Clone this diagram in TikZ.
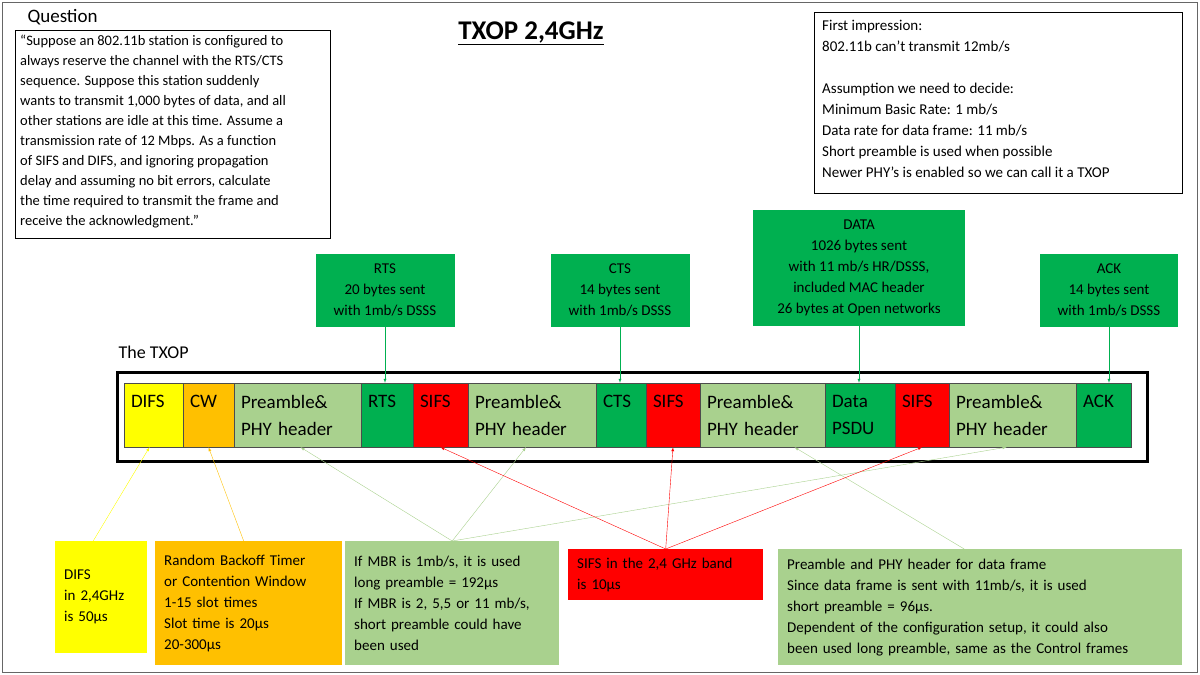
\documentclass[tikz,border=0pt]{standalone}
\usepackage{fontspec}
\setmainfont{Carlito}
\usetikzlibrary{calc}
\definecolor{difsyellow}{HTML}{FFFF00}
\definecolor{cworange}{HTML}{FFC000}
\definecolor{preGreen}{HTML}{A9D18E}
\definecolor{frameGreen}{HTML}{00B050}
\definecolor{sifsRed}{HTML}{FF0000}
\begin{document}
\begin{tikzpicture}[
    x=1pt, y=-1pt,
    seg/.style = {
      draw = black!70, minimum height = 64pt, inner xsep = 7pt, inner ysep = 0pt,
      text width = #1pt - 14pt, align = left, font = \fontsize{19}{27}\selectfont
    },
    info/.style = {
      anchor = north west, inner xsep = 9pt, align = left,
      text width = #1pt - 18pt, font = \fontsize{15}{21}\selectfont
    },
    topbox/.style = {
      fill = frameGreen, align = center, inner sep = 0pt,
      font = \fontsize{15}{21}\selectfont
    },
    frame arrow/.style = { frameGreen, -latex },
    pre arrow/.style = { preGreen, -latex },
    sifs arrow/.style = { sifsRed, -latex }
  ]
  \useasboundingbox (0,0) rectangle (1200,675);
  \draw[black!60] (2,2) rectangle (1197,672);

  % question and notes
  \node[anchor = west, font = \fontsize{19}{22}\selectfont] (qtitle) at (24,17) {Question};
  \draw (15,30) rectangle (330,238);
  \node[anchor = north west, inner sep = 0pt, align = left,
    font = \fontsize{14.5}{20}\selectfont] (question) at (20,35)
    {“Suppose an 802.11b station is configured to\\
     always reserve the channel with the RTS/CTS\\
     sequence. Suppose this station suddenly\\
     wants to transmit 1,000 bytes of data, and all\\
     other stations are idle at this time. Assume a\\
     transmission rate of 12 Mbps. As a function\\
     of SIFS and DIFS, and ignoring propagation\\
     delay and assuming no bit errors, calculate\\
     the time required to transmit the frame and\\
     receive the acknowledgment.”};
  \node[font = \fontsize{27}{30}\selectfont\bfseries] (title) at (531,33)
    {\underline{TXOP 2,4GHz}};
  \draw (814,12) rectangle (1182,193);
  \node[anchor = north west, inner sep = 0pt, align = left,
    font = \fontsize{15}{21}\selectfont] (notes) at (822,20)
    {First impression:\\
     802.11b can’t transmit 12mb/s\\[21pt]
     Assumption we need to decide:\\
     Minimum Basic Rate: 1 mb/s\\
     Data rate for data frame: 11 mb/s\\
     Short preamble is used when possible\\
     Newer PHY’s is enabled so we can call it a TXOP};

  % frame descriptions
  \node[topbox, minimum width = 139pt, minimum height = 73pt] (rtsbox) at (385,290)
    {RTS\\20 bytes sent\\with 1mb/s DSSS};
  \node[topbox, minimum width = 139pt, minimum height = 73pt] (ctsbox) at (620,290)
    {CTS\\14 bytes sent\\with 1mb/s DSSS};
  \node[topbox, minimum width = 212pt, minimum height = 116pt] (databox) at (859,268)
    {DATA\\1026 bytes sent\\with 11 mb/s HR/DSSS,\\included MAC header\\26 bytes at Open networks};
  \node[topbox, minimum width = 138pt, minimum height = 73pt] (ackbox) at (1109,290)
    {ACK\\14 bytes sent\\with 1mb/s DSSS};

  % the TXOP bar
  \node[anchor = west, font = \fontsize{18}{20}\selectfont] (txoplabel) at (115,352) {The TXOP};
  \draw[line width = 3pt] (117,372) rectangle (1147,461);
  \node[seg = 59, fill = difsyellow] (difs) at (153.5,415) {DIFS\\~};
  \node[seg = 51, fill = cworange] (cw) at (208.5,415) {CW\\~};
  \node[seg = 127, fill = preGreen] (pre1) at (297.5,415) {Preamble\&\\PHY header};
  \node[seg = 52, fill = frameGreen] (rts) at (387,415) {RTS\\~};
  \node[seg = 55, fill = sifsRed] (sifs1) at (440.5,415) {SIFS\\~};
  \node[seg = 128, fill = preGreen] (pre2) at (532,415) {Preamble\&\\PHY header};
  \node[seg = 50, fill = frameGreen] (cts) at (621,415) {CTS\\~};
  \node[seg = 54, fill = sifsRed] (sifs2) at (673,415) {SIFS\\~};
  \node[seg = 125, fill = preGreen] (pre3) at (762.5,415) {Preamble\&\\PHY header};
  \node[seg = 70, fill = frameGreen] (data) at (860,415) {Data\\PSDU};
  \node[seg = 54, fill = sifsRed] (sifs3) at (922,415) {SIFS\\~};
  \node[seg = 127, fill = preGreen] (pre4) at (1012.5,415) {Preamble\&\\PHY header};
  \node[seg = 55, fill = frameGreen] (ack) at (1103.5,415) {ACK\\~};

  % explanations
  \node[info = 92, fill = difsyellow, minimum height = 112pt, inner ysep = 18pt]
    (difsnote) at (55,541) {DIFS\\in 2,4GHz\\is 50µs};
  \node[info = 187, fill = cworange, minimum height = 124pt, inner ysep = 12pt]
    (cwnote) at (155,541)
    {Random Backoff Timer\\or Contention Window\\1-15 slot times\\Slot time is 20µs\\20-300µs};
  \node[info = 214, fill = preGreen, minimum height = 124pt, inner ysep = 12pt]
    (prenote) at (345,541)
    {If MBR is 1mb/s, it is used\\long preamble = 192µs\\If MBR is 2, 5,5 or 11 mb/s,\\short preamble could have\\been used};
  \node[info = 195, fill = sifsRed, minimum height = 51pt, inner ysep = 6pt]
    (sifsnote) at (568,549) {SIFS in the 2,4 GHz band\\is 10µs};
  \node[info = 404, fill = preGreen, minimum height = 116pt, inner ysep = 6pt]
    (datanote) at (778,549)
    {Preamble and PHY header for data frame\\
     Since data frame is sent with 11mb/s, it is used\\
     short preamble = 96µs.\\
     Dependent of the configuration setup, it could also\\
     been used long preamble, same as the Control frames};

  % connectors
  \draw[frame arrow] (rtsbox.south) -- (rtsbox.south |- rts.north);
  \draw[frame arrow] (ctsbox.south) -- (ctsbox.south |- cts.north);
  \draw[frame arrow] (databox.south) -- (databox.south |- data.north);
  \draw[frame arrow] (ackbox.south) -- (ackbox.south |- ack.north);
  \draw[difsyellow, -latex] ([xshift = -8pt]difsnote.north) -- ([xshift = -4pt]difs.south);
  \draw[cworange, -latex] ([xshift = -5pt]cwnote.north) -- (cw.south);
  \draw[pre arrow] (prenote.north) -- ([xshift = 3pt]pre1.south);
  \draw[pre arrow] (prenote.north) -- ([xshift = -6pt]pre2.south);
  \draw[pre arrow] (prenote.north) -- ([xshift = -6pt]pre4.south);
  \draw[pre arrow] ([xshift = -16pt]datanote.north) -- ([xshift = 32pt]pre3.south);
  \foreach \s in {sifs1, sifs2, sifs3}
    \draw[sifs arrow] (sifsnote.north) -- (\s.south);
\end{tikzpicture}
\end{document}
